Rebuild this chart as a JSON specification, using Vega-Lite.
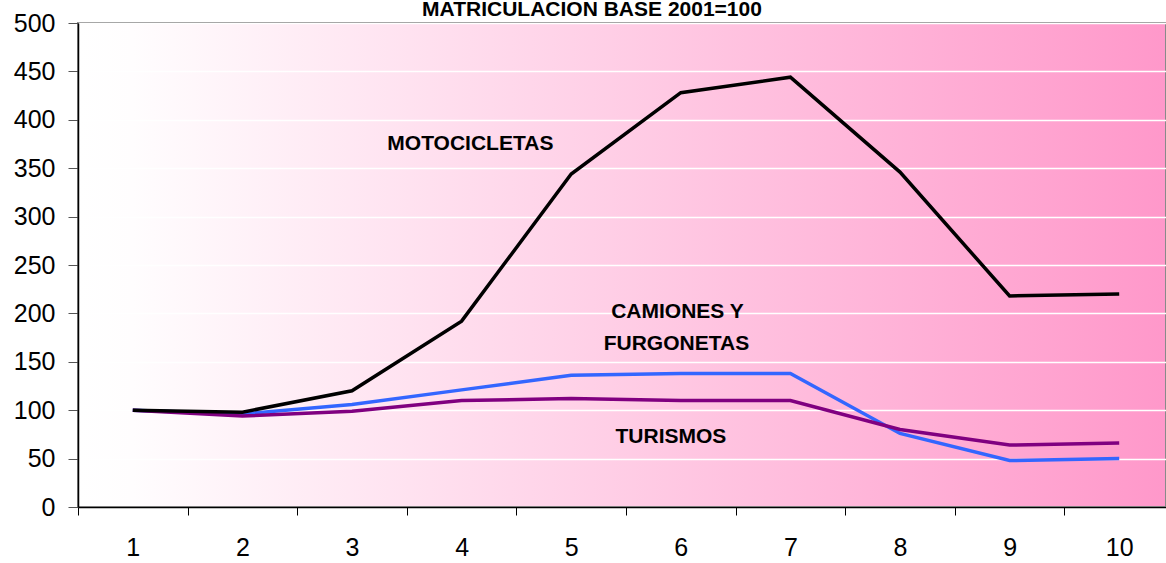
{
  "$schema": "https://vega.github.io/schema/vega-lite/v6.json",
  "width": 1088,
  "height": 484,
  "autosize": {"type": "none"},
  "padding": {"left": 78, "top": 23, "right": 0, "bottom": 56},
  "background": "white",
  "config": {
    "font": "Liberation Sans",
    "view": {
      "fill": {"gradient": "linear", "x1": 0, "y1": 0, "x2": 1, "y2": 0,
        "stops": [{"offset": 0, "color": "#ffffff"}, {"offset": 0.05, "color": "#fffdfe"}, {"offset": 1, "color": "#ff98ca"}]},
      "stroke": "#8a8a8a",
      "strokeWidth": 2
    }
  },
  "title": {
    "text": "MATRICULACION BASE 2001=100",
    "fontSize": 21,
    "fontWeight": "bold",
    "color": "black",
    "frame": "group",
    "anchor": "middle",
    "baseline": "alphabetic",
    "offset": -26,
    "dx": -30
  },
  "datasets": {
    "series": [
      {"serie": "CAMIONES Y FURGONETAS", "periodo": 1, "indice": 100},
      {"serie": "CAMIONES Y FURGONETAS", "periodo": 2, "indice": 96},
      {"serie": "CAMIONES Y FURGONETAS", "periodo": 3, "indice": 106},
      {"serie": "CAMIONES Y FURGONETAS", "periodo": 4, "indice": 121},
      {"serie": "CAMIONES Y FURGONETAS", "periodo": 5, "indice": 136},
      {"serie": "CAMIONES Y FURGONETAS", "periodo": 6, "indice": 138},
      {"serie": "CAMIONES Y FURGONETAS", "periodo": 7, "indice": 138},
      {"serie": "CAMIONES Y FURGONETAS", "periodo": 8, "indice": 76},
      {"serie": "CAMIONES Y FURGONETAS", "periodo": 9, "indice": 48},
      {"serie": "CAMIONES Y FURGONETAS", "periodo": 10, "indice": 50},
      {"serie": "TURISMOS", "periodo": 1, "indice": 100},
      {"serie": "TURISMOS", "periodo": 2, "indice": 94},
      {"serie": "TURISMOS", "periodo": 3, "indice": 99},
      {"serie": "TURISMOS", "periodo": 4, "indice": 110},
      {"serie": "TURISMOS", "periodo": 5, "indice": 112},
      {"serie": "TURISMOS", "periodo": 6, "indice": 110},
      {"serie": "TURISMOS", "periodo": 7, "indice": 110},
      {"serie": "TURISMOS", "periodo": 8, "indice": 80},
      {"serie": "TURISMOS", "periodo": 9, "indice": 64},
      {"serie": "TURISMOS", "periodo": 10, "indice": 66},
      {"serie": "MOTOCICLETAS", "periodo": 1, "indice": 100},
      {"serie": "MOTOCICLETAS", "periodo": 2, "indice": 98},
      {"serie": "MOTOCICLETAS", "periodo": 3, "indice": 120},
      {"serie": "MOTOCICLETAS", "periodo": 4, "indice": 192},
      {"serie": "MOTOCICLETAS", "periodo": 5, "indice": 344},
      {"serie": "MOTOCICLETAS", "periodo": 6, "indice": 428},
      {"serie": "MOTOCICLETAS", "periodo": 7, "indice": 444},
      {"serie": "MOTOCICLETAS", "periodo": 8, "indice": 346},
      {"serie": "MOTOCICLETAS", "periodo": 9, "indice": 218},
      {"serie": "MOTOCICLETAS", "periodo": 10, "indice": 220}
    ],
    "etiquetas": [
      {"texto": "MOTOCICLETAS", "x": 4.08, "y": 369},
      {"texto": "CAMIONES Y", "x": 5.97, "y": 195.5},
      {"texto": "FURGONETAS", "x": 5.96, "y": 162.5},
      {"texto": "TURISMOS", "x": 5.91, "y": 66.5}
    ]
  },
  "layer": [
    {
      "data": {"name": "series"},
      "encoding": {
        "x": {
          "field": "periodo",
          "type": "ordinal",
          "bandPosition": 0.5,
          "scale": {"type": "band", "range": [0, 1096], "paddingInner": 0, "paddingOuter": 0},
          "axis": {
            "title": null,
            "tickBand": "extent",
            "labelAngle": 0,
            "domainColor": "black",
            "domainWidth": 1.5,
            "tickColor": "black",
            "tickSize": 8,
            "tickWidth": 1,
            "labelFontSize": 25,
            "labelColor": "black",
            "labelPadding": 20,
            "grid": false
          }
        },
        "y": {
          "field": "indice",
          "type": "quantitative",
          "scale": {"domain": [0, 500], "nice": false, "zero": true},
          "axis": {
            "title": null,
            "values": [0, 50, 100, 150, 200, 250, 300, 350, 400, 450, 500],
            "domainColor": "black",
            "domainWidth": 1.5,
            "tickColor": "#555555",
            "tickSize": 10,
            "tickWidth": 1,
            "labelFontSize": 25,
            "labelColor": "black",
            "labelPadding": 13,
            "grid": true,
            "gridColor": "#ffffff",
            "gridWidth": 1.5
          }
        }
      },
      "layer": [
        {
          "transform": [{"filter": "datum.serie === 'CAMIONES Y FURGONETAS'"}],
          "mark": {"type": "line", "color": "#3366ff", "strokeWidth": 3.5}
        },
        {
          "transform": [{"filter": "datum.serie === 'TURISMOS'"}],
          "mark": {"type": "line", "color": "#800080", "strokeWidth": 3.5}
        },
        {
          "transform": [{"filter": "datum.serie === 'MOTOCICLETAS'"}],
          "mark": {"type": "line", "color": "#000000", "strokeWidth": 3.5}
        }
      ]
    },
    {
      "data": {"name": "etiquetas"},
      "mark": {"type": "text", "fontSize": 21, "fontWeight": "bold", "align": "center", "baseline": "alphabetic", "color": "black"},
      "encoding": {
        "x": {"field": "x", "type": "quantitative", "scale": {"domain": [0.5, 10.5], "range": [0, 1096]}, "axis": null},
        "y": {
          "field": "y",
          "type": "quantitative",
          "axis": {
            "title": null,
            "values": [0, 50, 100, 150, 200, 250, 300, 350, 400, 450, 500],
            "domainColor": "black",
            "domainWidth": 1.5,
            "tickColor": "#555555",
            "tickSize": 10,
            "tickWidth": 1,
            "labelFontSize": 25,
            "labelColor": "black",
            "labelPadding": 13,
            "grid": true,
            "gridColor": "#ffffff",
            "gridWidth": 1.5
          }
        },
        "text": {"field": "texto"}
      }
    }
  ],
  "resolve": {"scale": {"x": "independent"}}
}
